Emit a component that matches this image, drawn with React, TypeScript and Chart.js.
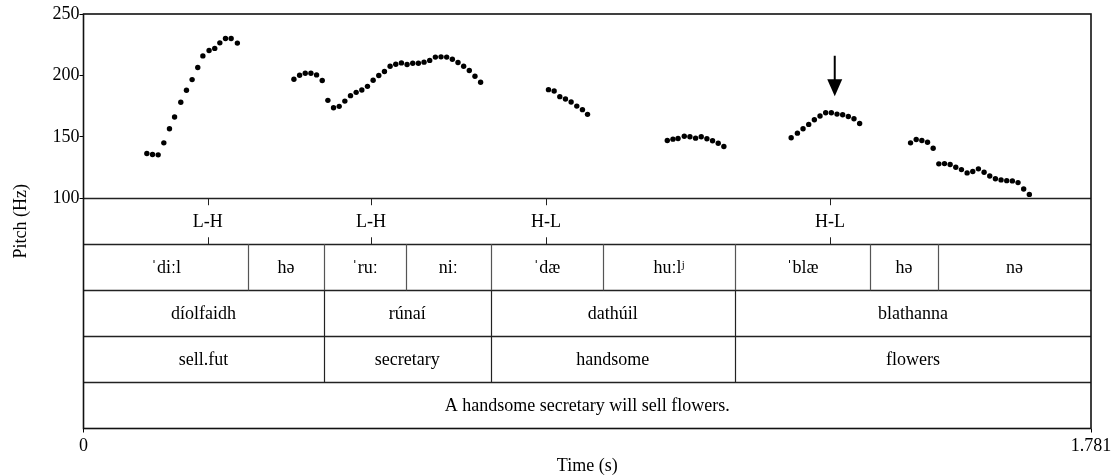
import React, { useEffect, useRef } from "react";
import { Chart, registerables } from "chart.js";

Chart.register(...registerables);

// ---- Pitch track (time in s, F0 in Hz) ----
const pitchTimes = [
  0.112, 0.122, 0.132, 0.142, 0.152, 0.161, 0.172, 0.182, 0.192, 0.202, 0.211, 0.222, 0.232, 0.241, 0.251, 0.261, 0.272,
  0.372, 0.382, 0.392, 0.402, 0.412, 0.422, 0.432, 0.442, 0.452, 0.462, 0.472, 0.482, 0.492, 0.502, 0.512, 0.522, 0.532,
  0.542, 0.552, 0.562, 0.572, 0.582, 0.592, 0.602, 0.612, 0.622, 0.632, 0.642, 0.652, 0.662, 0.672, 0.682, 0.692, 0.702,
  0.822, 0.832, 0.842, 0.852, 0.862, 0.872, 0.882, 0.891,
  1.032, 1.042, 1.051, 1.062, 1.072, 1.082, 1.092, 1.102, 1.112, 1.122, 1.132,
  1.251, 1.262, 1.272, 1.282, 1.292, 1.302, 1.312, 1.322, 1.332, 1.342, 1.352, 1.362, 1.372,
  1.462, 1.472, 1.482, 1.492, 1.502,
  1.512, 1.522, 1.532, 1.542, 1.552, 1.562, 1.572, 1.582, 1.592, 1.602, 1.612, 1.622, 1.632, 1.642, 1.652, 1.662, 1.672,
];
const pitchHz = [
  136.4, 135.6, 135.3, 145.1, 156.6, 166.1, 178.1, 187.9, 196.6, 206.4, 215.9, 220.3, 222.0, 226.5, 230.1, 230.1, 226.3,
  196.9, 200.1, 201.8, 201.8, 200.4, 195.8, 179.7, 173.7, 174.8, 179.1, 183.5, 186.2, 188.1, 191.1, 196.1, 199.9, 203.2,
  207.5, 209.1, 210.2, 208.9, 209.9, 209.9, 210.8, 212.2, 214.9, 215.1, 214.9, 213.2, 210.5, 207.5, 204.0, 199.3, 194.4,
  188.4, 187.3, 182.7, 180.8, 178.3, 175.0, 172.1, 168.3,
  147.0, 148.1, 148.6, 150.5, 150.0, 148.9, 150.0, 148.4, 146.8, 144.8, 142.1,
  149.2, 153.0, 156.6, 160.1, 163.9, 166.9, 169.6, 169.6, 168.5, 168.0, 166.6, 164.7, 160.9,
  145.1, 147.8, 147.0, 145.6, 140.7,
  128.0, 128.2, 127.4, 125.2, 123.3, 120.6, 121.7, 123.9, 121.1, 118.1, 115.9, 114.9, 114.3, 114.1, 112.7, 107.5, 103.1,
];

// ---- Axes ----
const xMin = 0;
const xMax = 1.781;
const xTickValues = [0, 1.781];
const xTickLabels = ["0", "1.781"];
const yMin = -87.5;
const yMax = 250;
const yTickValues = [100, 150, 200, 250];
const yTickLabels = ["100", "150", "200", "250"];

// ---- Annotation tiers (boundaries expressed on the y scale, Hz units) ----
const tierEdges = [100, 62.5, 25, -12.5, -50, -87.5];

const toneTimes = [0.2196, 0.5082, 0.8176, 1.3196];
const toneLabels = ["L-H", "L-H", "H-L", "H-L"];

const syllableBounds = [0, 0.2913, 0.4246, 0.5696, 0.7198, 0.9183, 1.1517, 1.3903, 1.5105, 1.781];
const syllableLabels = ["ˈdiːl", "hə", "ˈruː", "niː", "ˈdæ", "huːlʲ", "ˈblæ", "hə", "nə"];

const wordBounds = [0, 0.4246, 0.7198, 1.1517, 1.781];
const wordLabels = ["díolfaidh", "rúnaí", "dathúil", "blathanna"];
const glossLabels = ["sell.fut", "secretary", "handsome", "flowers"];

const sentenceBounds = [0, 1.781];
const sentenceLabels = ["A handsome secretary will sell flowers."];

// arrow marking the peak
const arrowTime = 1.328;
const arrowTopHz = 216;
const arrowTipHz = 183;

const FONT_FAMILY = "'Liberation Serif', 'Times New Roman', 'DejaVu Serif', serif";
const FONT_SIZE = 18;

export default function App() {
  const ref = useRef<HTMLCanvasElement | null>(null);

  useEffect(() => {
    if (!ref.current) return;

    const tierPlugin = {
      id: "tiers",
      afterDatasetsDraw(chart: any) {
        const { ctx, chartArea } = chart;
        const xs = chart.scales.x;
        const ys = chart.scales.y;
        const L = chartArea.left;
        const R = chartArea.right;
        const px = (t: number) => xs.getPixelForValue(t);
        const py = (v: number) => ys.getPixelForValue(v);

        ctx.save();
        ctx.font = `${FONT_SIZE}px ${FONT_FAMILY}`;
        ctx.textAlign = "center";
        ctx.textBaseline = "middle";
        ctx.fillStyle = "#000";

        // horizontal tier lines
        ctx.strokeStyle = "#222";
        ctx.lineWidth = 1.3;
        for (let i = 0; i < tierEdges.length - 1; i++) {
          const yy = Math.round(py(tierEdges[i])) + 0.5;
          ctx.beginPath();
          ctx.moveTo(L, yy);
          ctx.lineTo(R, yy);
          ctx.stroke();
        }

        // tone tier (tier 0)
        {
          const top = py(tierEdges[0]);
          const bot = py(tierEdges[1]);
          const mid = (top + bot) / 2;
          ctx.strokeStyle = "#222";
          ctx.lineWidth = 1;
          toneTimes.forEach((t, i) => {
            const xx = Math.round(px(t)) + 0.5;
            ctx.beginPath();
            ctx.moveTo(xx, top);
            ctx.lineTo(xx, top + 7);
            ctx.moveTo(xx, bot - 7);
            ctx.lineTo(xx, bot);
            ctx.stroke();
            ctx.fillText(toneLabels[i], px(t), mid + 1);
          });
        }

        const drawInterval = (tier: number, bounds: number[], labels: string[], color: string) => {
          const top = py(tierEdges[tier]);
          const bot = py(tierEdges[tier + 1]);
          const mid = (top + bot) / 2;
          ctx.strokeStyle = color;
          ctx.lineWidth = 1.2;
          for (let i = 1; i < bounds.length - 1; i++) {
            const xx = Math.round(px(bounds[i])) + 0.5;
            ctx.beginPath();
            ctx.moveTo(xx, top);
            ctx.lineTo(xx, bot);
            ctx.stroke();
          }
          for (let i = 0; i < labels.length; i++) {
            const cx = (px(bounds[i]) + px(bounds[i + 1])) / 2;
            ctx.fillText(labels[i], cx, mid + 1);
          }
        };

        drawInterval(1, syllableBounds, syllableLabels, "#555");
        drawInterval(2, wordBounds, wordLabels, "#222");
        drawInterval(3, wordBounds, glossLabels, "#222");
        drawInterval(4, sentenceBounds, sentenceLabels, "#222");

        // frame
        ctx.strokeStyle = "#111";
        ctx.lineWidth = 1.6;
        ctx.strokeRect(L, chartArea.top, R - L, chartArea.bottom - chartArea.top);

        // arrow
        const ax = px(arrowTime);
        const ay0 = py(arrowTopHz);
        const ay1 = py(arrowTipHz);
        ctx.strokeStyle = "#000";
        ctx.lineWidth = 2;
        ctx.beginPath();
        ctx.moveTo(ax, ay0);
        ctx.lineTo(ax, ay1 - 12);
        ctx.stroke();
        ctx.beginPath();
        ctx.moveTo(ax - 7.5, ay1 - 17);
        ctx.lineTo(ax + 7.5, ay1 - 17);
        ctx.lineTo(ax, ay1);
        ctx.closePath();
        ctx.fill();

        ctx.restore();
      },
    };

    const font = { family: FONT_FAMILY, size: FONT_SIZE };

    const chart = new Chart(ref.current, {
      type: "scatter",
      data: {
        datasets: [
          {
            label: "F0",
            data: pitchTimes.map((t, i) => ({ x: t, y: pitchHz[i] })),
            pointRadius: 2.7,
            pointHoverRadius: 2.7,
            pointBackgroundColor: "#000",
            pointBorderWidth: 0,
            showLine: false,
          },
        ],
      },
      options: {
        animation: false,
        responsive: false,
        events: [],
        layout: { padding: { left: 0, top: 14, right: 21, bottom: 0 } },
        plugins: {
          legend: { display: false },
          tooltip: { enabled: false },
          title: { display: false },
        },
        scales: {
          x: {
            type: "linear",
            min: xMin,
            max: xMax,
            afterBuildTicks: (s: any) => {
              s.ticks = xTickValues.map((v) => ({ value: v }));
            },
            afterFit: (s: any) => {
              s.height = 46.5;
              s.paddingLeft = 0;
              s.paddingRight = 0;
            },
            ticks: {
              autoSkip: false,
              maxRotation: 0,
              padding: 3,
              color: "#000",
              font,
              callback: (_v: any, i: number) => xTickLabels[i],
            },
            grid: { drawOnChartArea: false, drawTicks: true, tickLength: 4, color: "#000", lineWidth: 1 },
            border: { display: false },
            title: { display: true, text: "Time (s)", color: "#000", font, padding: { top: 0, bottom: -2 } },
          },
          y: {
            type: "linear",
            min: yMin,
            max: yMax,
            afterBuildTicks: (s: any) => {
              s.ticks = yTickValues.map((v) => ({ value: v }));
            },
            afterFit: (s: any) => {
              s.width = 83.5;
              s.paddingTop = 0;
              s.paddingBottom = 0;
            },
            ticks: {
              autoSkip: false,
              padding: 0,
              color: "#000",
              font,
              callback: (_v: any, i: number) => yTickLabels[i],
            },
            grid: { drawOnChartArea: false, drawTicks: true, tickLength: 4, color: "#000", lineWidth: 1 },
            border: { display: false },
            title: { display: true, text: "Pitch (Hz)", color: "#000", font, padding: { top: 10, bottom: 0 } },
          },
        },
      },
      plugins: [tierPlugin],
    } as any);

    return () => chart.destroy();
  }, []);

  return (
    <canvas
      ref={ref}
      width={1112}
      height={475}
      style={{ position: "absolute", left: 0, top: 0, width: 1112, height: 475, display: "block" }}
    />
  );
}
